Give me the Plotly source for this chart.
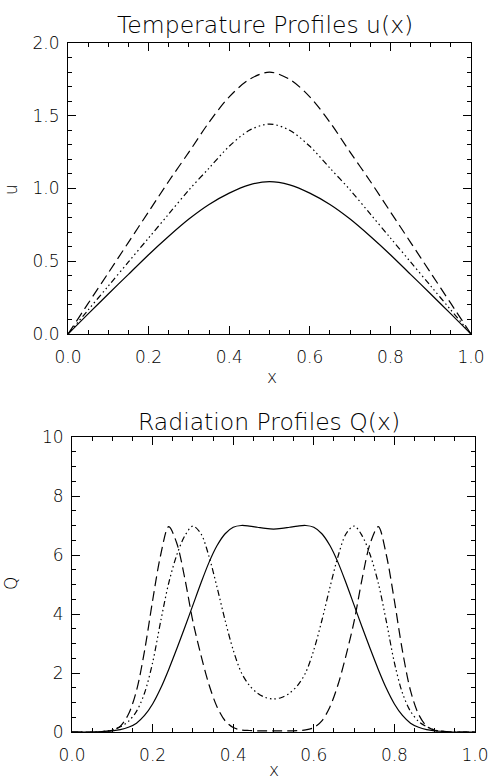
import plotly.graph_objects as go

W, H = 489, 781

# ---------------- data ----------------
x_u = [0.00, 0.05, 0.10, 0.15, 0.20, 0.25, 0.30, 0.35, 0.40, 0.45, 0.50,
       0.55, 0.60, 0.65, 0.70, 0.75, 0.80, 0.85, 0.90, 0.95, 1.00]
u_solid = [0.0, 0.138, 0.275, 0.41, 0.545, 0.672, 0.79, 0.89, 0.968, 1.025, 1.047,
           1.025, 0.968, 0.89, 0.79, 0.672, 0.545, 0.41, 0.275, 0.138, 0.0]
u_dotted = [0.0, 0.165, 0.33, 0.495, 0.66, 0.825, 0.99, 1.14, 1.29, 1.40, 1.443,
            1.40, 1.29, 1.14, 0.99, 0.825, 0.66, 0.495, 0.33, 0.165, 0.0]
u_dashed = [0.0, 0.21, 0.42, 0.63, 0.84, 1.05, 1.25, 1.455, 1.63, 1.75, 1.80,
            1.75, 1.63, 1.455, 1.25, 1.05, 0.84, 0.63, 0.42, 0.21, 0.0]

x_q = [0.00, 0.06, 0.08, 0.10, 0.12, 0.14, 0.16, 0.18, 0.20, 0.22, 0.24,
       0.26, 0.28, 0.30, 0.32, 0.34, 0.36, 0.38, 0.40, 0.42, 0.44, 0.46,
       0.48, 0.50, 0.52, 0.54, 0.56, 0.58, 0.60, 0.62, 0.64, 0.66, 0.68,
       0.70, 0.72, 0.74, 0.76, 0.78, 0.80, 0.82, 0.84, 0.86, 0.88, 0.90,
       0.92, 0.94, 1.00]
q_solid = [0.0, 0.0, 0.02, 0.04, 0.08, 0.16, 0.30, 0.56, 0.95, 1.48, 2.12,
           2.82, 3.55, 4.30, 5.05, 5.75, 6.32, 6.72, 6.94, 7.00, 6.98, 6.94,
           6.90, 6.88, 6.90, 6.94, 6.98, 7.00, 6.94, 6.72, 6.32, 5.75, 5.05,
           4.30, 3.55, 2.82, 2.12, 1.48, 0.95, 0.56, 0.30, 0.16, 0.08, 0.04,
           0.02, 0.0, 0.0]
q_dotted = [0.0, 0.0, 0.02, 0.07, 0.18, 0.36, 0.70, 1.32, 2.35, 3.75, 5.05,
            6.00, 6.65, 6.98, 6.72, 5.95, 4.90, 3.78, 2.78, 2.02, 1.58, 1.32,
            1.17, 1.12, 1.17, 1.32, 1.58, 2.02, 2.78, 3.78, 4.90, 5.95, 6.72,
            6.98, 6.65, 6.00, 5.05, 3.75, 2.35, 1.32, 0.70, 0.36, 0.18, 0.07,
            0.02, 0.0, 0.0]
q_dashed = [0.0, 0.0, 0.02, 0.06, 0.20, 0.60, 1.40, 2.75, 4.45, 6.00, 6.96,
            6.40, 5.20, 3.75, 2.60, 1.60, 0.85, 0.38, 0.15, 0.07, 0.05, 0.04,
            0.04, 0.04, 0.04, 0.04, 0.05, 0.07, 0.15, 0.38, 0.85, 1.60, 2.60,
            3.75, 5.20, 6.40, 6.96, 6.00, 4.45, 2.75, 1.40, 0.60, 0.20, 0.06,
            0.02, 0.0, 0.0]

x_ticks = [0.0, 0.2, 0.4, 0.6, 0.8, 1.0]
x_tick_text = ["0.0", "0.2", "0.4", "0.6", "0.8", "1.0"]
u_ticks = [0.0, 0.5, 1.0, 1.5, 2.0]
u_tick_text = ["0.0", "0.5", "1.0", "1.5", "2.0"]
q_ticks = [0, 2, 4, 6, 8, 10]
q_tick_text = ["0", "2", "4", "6", "8", "10"]

FONT = "DejaVu Sans"
DASH = "10px,5px"
DDD = "6px,3px,1.5px,3px,1.5px,3px,1.5px,3px"
LW = 1.2

fig = go.Figure()


def add(x, y, dash, xa, ya):
    fig.add_trace(go.Scatter(x=x, y=y, mode="lines", xaxis=xa, yaxis=ya,
                             line=dict(color="black", width=LW, dash=dash,
                                       shape="spline", smoothing=0.9),
                             showlegend=False, hoverinfo="skip"))


add(x_u, u_solid, "solid", "x", "y")
add(x_u, u_dotted, DDD, "x", "y")
add(x_u, u_dashed, DASH, "x", "y")
add(x_q, q_solid, "solid", "x2", "y2")
add(x_q, q_dotted, DDD, "x2", "y2")
add(x_q, q_dashed, DASH, "x2", "y2")


def px(v):
    return v / W


def py(v):
    return 1 - v / H


tickfont = dict(family=FONT, size=17, color="black", weight=300)


def xaxis(domain, anchor):
    return dict(domain=domain, anchor=anchor, range=[0, 1], automargin=False,
                tickvals=x_ticks, ticktext=x_tick_text,
                ticks="inside", ticklen=8, tickwidth=1, tickcolor="black",
                minor=dict(dtick=0.05, ticks="inside", ticklen=4,
                           tickcolor="black", tickwidth=1, showgrid=False),
                showline=True, linecolor="black", linewidth=1, mirror="ticks",
                showgrid=False, zeroline=False, tickfont=tickfont,
                ticklabelstandoff=8, fixedrange=True)


def yaxis(domain, anchor, rng, vals, text, mdt):
    return dict(domain=domain, anchor=anchor, range=rng, automargin=False,
                tickvals=vals, ticktext=text,
                ticks="inside", ticklen=8, tickwidth=1, tickcolor="black",
                minor=dict(dtick=mdt, ticks="inside", ticklen=4,
                           tickcolor="black", tickwidth=1, showgrid=False),
                showline=True, linecolor="black", linewidth=1, mirror="ticks",
                showgrid=False, zeroline=False, tickfont=tickfont,
                ticklabelstandoff=4, fixedrange=True)


fig.update_layout(
    width=W, height=H, autosize=False,
    margin=dict(l=0, r=0, t=0, b=0, pad=0),
    paper_bgcolor="white", plot_bgcolor="white",
    xaxis=xaxis([px(68), px(471)], "y"),
    yaxis=yaxis([py(334), py(43)], "x", [0, 2], u_ticks, u_tick_text, 0.1),
    xaxis2=xaxis([px(72), px(475)], "y2"),
    yaxis2=yaxis([py(732), py(437)], "x2", [0, 10], q_ticks, q_tick_text, 0.5),
)

ann = [
    ("Temperature Profiles u(x)", 265, 25, 23.5, 0),
    ("Radiation Profiles Q(x)", 269, 422, 23.5, 0),
    ("x", 272, 377, 17, 0),
    ("x", 274, 770, 17, 0),
    ("u", 11, 190, 17, -90),
    ("Q", 11, 584, 17, -90),
]
for text, ax, ay, size, rot in ann:
    fig.add_annotation(text=text, x=px(ax), y=py(ay), xref="paper", yref="paper",
                       showarrow=False, xanchor="center", yanchor="middle",
                       textangle=rot,
                       font=dict(family=FONT, size=size, color="black", weight=300))

fig.write_html("out.html", config={"responsive": False, "displayModeBar": False},
               default_width=f"{W}px", default_height=f"{H}px",
               post_script="document.body.style.margin='0px';"
                           "document.body.style.overflow='hidden';")
